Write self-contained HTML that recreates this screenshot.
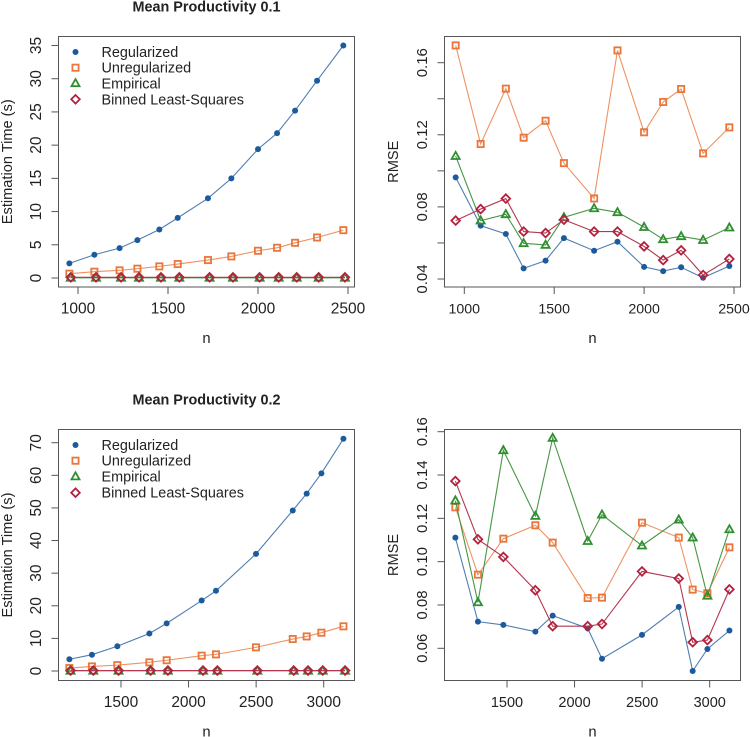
<!DOCTYPE html>
<html>
<head>
<meta charset="utf-8">
<title>Mean Productivity Charts</title>
<style>
html,body{margin:0;padding:0;background:#fff;}
#figure{display:block;width:750px;height:737px;filter:blur(0.35px);}
text{font-family:"Liberation Sans",Arial,sans-serif;fill:#222;}
</style>
</head>
<body>
<svg id="figure" xmlns="http://www.w3.org/2000/svg" width="750" height="737" viewBox="0 0 750 737"></svg>
<script>
// --- data ---
const seriesNames = ["Regularized", "Unregularized", "Empirical", "Binned Least-Squares"];

const nTop = [952, 1091, 1231, 1330, 1452, 1554, 1722, 1852, 2000, 2106, 2206, 2328, 2474];
const nTopBinned = [960, 1100, 1239, 1339, 1461, 1563, 1731, 1861, 2009, 2115, 2215, 2337, 2483];
const nBottom = [1118, 1285, 1473, 1710, 1838, 2097, 2203, 2499, 2771, 2874, 2983, 3146];
const nBottomBinned = [1127, 1295, 1482, 1719, 1847, 2107, 2213, 2509, 2778, 2884, 2993, 3158];

const timeTopReg = [2.2, 3.5, 4.5, 5.7, 7.3, 9.05, 12.0, 15.0, 19.4, 21.8, 25.2, 29.7, 35.0];
const timeTopUnreg = [0.65, 0.95, 1.15, 1.4, 1.75, 2.1, 2.7, 3.25, 4.1, 4.55, 5.3, 6.1, 7.2];
const timeTopEmp = [0.03, 0.03, 0.03, 0.03, 0.03, 0.03, 0.03, 0.03, 0.03, 0.03, 0.03, 0.03, 0.03];
const timeTopBin = [0.1, 0.1, 0.1, 0.1, 0.1, 0.1, 0.1, 0.1, 0.1, 0.1, 0.1, 0.1, 0.1];

const rmseTopReg = [0.0964, 0.0696, 0.065, 0.0459, 0.0502, 0.0627, 0.0557, 0.0607, 0.0467, 0.0444, 0.0465, 0.0407, 0.0472];
const rmseTopUnreg = [0.1696, 0.1149, 0.1456, 0.1184, 0.1278, 0.1043, 0.0847, 0.1668, 0.1214, 0.1382, 0.1454, 0.1097, 0.1241];
const rmseTopEmp = [0.1082, 0.0724, 0.0759, 0.0598, 0.0589, 0.0742, 0.0792, 0.077, 0.0688, 0.062, 0.0637, 0.0616, 0.0685];
const rmseTopBin = [0.0724, 0.0788, 0.0846, 0.0663, 0.0655, 0.0729, 0.0663, 0.0663, 0.0581, 0.0505, 0.0559, 0.0422, 0.0511];

const timeBottomReg = [3.6, 5.0, 7.6, 11.5, 14.6, 21.6, 24.6, 35.9, 49.2, 54.4, 60.6, 71.2];
const timeBottomUnreg = [0.9, 1.4, 1.8, 2.65, 3.3, 4.7, 5.1, 7.25, 9.8, 10.6, 11.75, 13.7];
const timeBottomEmp = [0.05, 0.05, 0.05, 0.05, 0.05, 0.05, 0.05, 0.05, 0.05, 0.05, 0.05, 0.05];
const timeBottomBin = [0.15, 0.15, 0.15, 0.15, 0.15, 0.15, 0.15, 0.15, 0.15, 0.15, 0.15, 0.15];

const rmseBottomReg = [0.1111, 0.0723, 0.0708, 0.0677, 0.0751, 0.0692, 0.0552, 0.0662, 0.0791, 0.0495, 0.0597, 0.0682];
const rmseBottomUnreg = [0.1251, 0.094, 0.1106, 0.1168, 0.1088, 0.0832, 0.0834, 0.118, 0.1111, 0.0871, 0.0854, 0.1066];
const rmseBottomEmp = [0.1282, 0.0812, 0.1514, 0.1211, 0.1571, 0.1095, 0.1217, 0.1074, 0.1194, 0.1111, 0.0842, 0.1149];
const rmseBottomBin = [0.1372, 0.1103, 0.1022, 0.0868, 0.0702, 0.0702, 0.0712, 0.0955, 0.0922, 0.0628, 0.0638, 0.0872];

const xTicksTop = [1000, 1500, 2000, 2500];
const xTicksBottom = [1500, 2000, 2500, 3000];
const yTicksTimeTop = [0, 5, 10, 15, 20, 25, 30, 35];
const yTicksTimeBottom = [0, 10, 20, 30, 40, 50, 60, 70];
const yTicksRmseTop = [0.04, 0.06, 0.08, 0.10, 0.12, 0.14, 0.16];
const yLabelsRmseTop = ["0.04", "", "0.08", "", "0.12", "", "0.16"];
const yTicksRmseBottom = [0.06, 0.08, 0.10, 0.12, 0.14, 0.16];
const yLabelsRmseBottom = ["0.06", "0.08", "0.10", "0.12", "0.14", "0.16"];

// --- drawing ---
const NS = "http://www.w3.org/2000/svg";
const svg = document.getElementById("figure");
const colors = ["#1c5a9e", "#e9773c", "#2f8f2f", "#b3213f"];
const lineColors = ["#4f7eb2", "#ee9262", "#469646", "#b5374f"];

function make(parent, tag, attrs, text) {
  const el = document.createElementNS(NS, tag);
  for (const k in attrs) el.setAttribute(k, attrs[k]);
  if (text !== undefined) el.textContent = text;
  parent.appendChild(el);
  return el;
}

function linear(d0, d1, r0, r1) {
  return v => r0 + (v - d0) * (r1 - r0) / (d1 - d0);
}

function marker(parent, kind, cx, cy) {
  const c = colors[kind];
  let el;
  if (kind === 0) {
    el = make(parent, "circle", {cx: cx, cy: cy, r: 3, fill: c});
  } else if (kind === 1) {
    el = make(parent, "rect", {x: cx - 3.1, y: cy - 3.1, width: 6.2, height: 6.2, fill: "none", stroke: c, "stroke-width": 1.8});
  } else if (kind === 2) {
    el = make(parent, "polygon", {points: (cx) + "," + (cy - 4.2) + " " + (cx + 4) + "," + (cy + 2.9) + " " + (cx - 4) + "," + (cy + 2.9), fill: "none", stroke: c, "stroke-width": 1.8});
  } else {
    el = make(parent, "polygon", {points: cx + "," + (cy - 4.3) + " " + (cx + 4.3) + "," + cy + " " + cx + "," + (cy + 4.3) + " " + (cx - 4.3) + "," + cy, fill: "none", stroke: c, "stroke-width": 1.8});
  }
  return el;
}

function drawPanel(p) {
  const g = make(svg, "g", {});
  
  
  const sx = linear(p.xd[0], p.xd[1], p.xr[0], p.xr[1]);
  const sy = linear(p.yd[0], p.yd[1], p.yr[0], p.yr[1]);

  const frame = make(g, "rect", {x: p.box[0], y: p.box[1], width: p.box[2] - p.box[0], height: p.box[3] - p.box[1], fill: "none", stroke: "#555", "stroke-width": 1});
  
  

  p.xTicks.forEach(t => {
    const x = sx(t);
    const tick = make(g, "line", {x1: x, x2: x, y1: p.box[3], y2: p.box[3] + 7, stroke: "#555", "stroke-width": 1});
    
    
    const lab = make(g, "text", {x: x, y: p.box[3] + 26.5, "text-anchor": "middle", "font-size": p.xFont}, String(t));
    
    
  });

  p.yTicks.forEach((t, i) => {
    const y = sy(t);
    const tick = make(g, "line", {x1: p.box[0] - 7, x2: p.box[0], y1: y, y2: y, stroke: "#555", "stroke-width": 1});
    
    
    const txt = p.yLabels ? p.yLabels[i] : String(t);
    if (txt) {
      const lx = p.box[0] - 17.5;
      const lab = make(g, "text", {x: lx, y: y, "text-anchor": "middle", "font-size": p.yFont, transform: "rotate(-90 " + lx + " " + y + ")"}, txt);
      
      
    }
  });

  const xt = make(g, "text", {x: (p.box[0] + p.box[2]) / 2, y: p.box[3] + 56, "text-anchor": "middle", "font-size": 14.8}, "n");
  
  

  const yc = (p.box[1] + p.box[3]) / 2;
  const ylx = p.box[0] - 46.5;
  const yt = make(g, "text", {x: ylx, y: yc, "text-anchor": "middle", "font-size": 14.6, transform: "rotate(-90 " + ylx + " " + yc + ")"}, p.yTitle);
  
  

  if (p.title) {
    const tt = make(g, "text", {x: (p.box[0] + p.box[2]) / 2, y: p.titleY, "text-anchor": "middle", "font-size": 14.4, "font-weight": "bold", fill: "#111"}, p.title);
    
    
  }

  p.series.forEach((s, k) => {
    const sg = make(g, "g", {});
    
    
    const pts = s.values.map((v, i) => sx(s.n[i]) + "," + sy(v)).join(" ");
    const line = make(sg, "polyline", {points: pts, fill: "none", stroke: lineColors[k], "stroke-width": 1.1});
    
    
    s.values.forEach((v, i) => {
      const m = marker(sg, k, sx(s.n[i]), sy(v));
      
      
    });
  });

  if (p.legend) {
    const lg = make(g, "g", {});
    
    
    seriesNames.forEach((name, k) => {
      const ly = p.legend[k];
      const m = marker(lg, k, 75.5, ly);
      
      
      const t = make(lg, "text", {x: 101.5, y: ly + 5, "font-size": 14.4}, name);
      
      
    });
  }
}

drawPanel({
  name: "time-panel-productivity-0-1", box: [58.5, 36.5, 354.5, 287],
  xd: [1000, 2500], xr: [78, 348], yd: [0, 35], yr: [278, 45.5], xFont: 15.5, yFont: 15.5,
  xTicks: xTicksTop, yTicks: yTicksTimeTop, yTitle: "Estimation Time (s)",
  title: "Mean Productivity 0.1", titleY: 11.5, legend: [52, 67.7, 83.3, 99.3],
  series: [
    {n: nTop, values: timeTopReg}, {n: nTop, values: timeTopUnreg},
    {n: nTopBinned, values: timeTopEmp}, {n: nTopBinned, values: timeTopBin}
  ]
});
drawPanel({
  name: "rmse-panel-productivity-0-1", box: [444.5, 36.5, 740.5, 287],
  xd: [1000, 2500], xr: [464.3, 734], yd: [0.04, 0.16], yr: [279, 62.7], xFont: 14.2, yFont: 15,
  xTicks: xTicksTop, yTicks: yTicksRmseTop, yLabels: yLabelsRmseTop, yTitle: "RMSE",
  series: [
    {n: nTop, values: rmseTopReg}, {n: nTop, values: rmseTopUnreg},
    {n: nTop, values: rmseTopEmp}, {n: nTop, values: rmseTopBin}
  ]
});
drawPanel({
  name: "time-panel-productivity-0-2", box: [58.5, 429.5, 354.5, 680.5],
  xd: [1500, 3000], xr: [121, 323.7], yd: [0, 70], yr: [671, 442.7], xFont: 15.5, yFont: 15.5,
  xTicks: xTicksBottom, yTicks: yTicksTimeBottom, yTitle: "Estimation Time (s)",
  title: "Mean Productivity 0.2", titleY: 404.5, legend: [445, 460.7, 476.5, 492.7],
  series: [
    {n: nBottom, values: timeBottomReg}, {n: nBottom, values: timeBottomUnreg},
    {n: nBottomBinned, values: timeBottomEmp}, {n: nBottomBinned, values: timeBottomBin}
  ]
});
drawPanel({
  name: "rmse-panel-productivity-0-2", box: [444.5, 429.5, 740.5, 680.5],
  xd: [1500, 3000], xr: [507, 709.7], yd: [0.06, 0.16], yr: [648.3, 431.7], xFont: 14.5, yFont: 15,
  xTicks: xTicksBottom, yTicks: yTicksRmseBottom, yLabels: yLabelsRmseBottom, yTitle: "RMSE",
  series: [
    {n: nBottom, values: rmseBottomReg}, {n: nBottom, values: rmseBottomUnreg},
    {n: nBottom, values: rmseBottomEmp}, {n: nBottom, values: rmseBottomBin}
  ]
});
</script>
</body>
</html>
